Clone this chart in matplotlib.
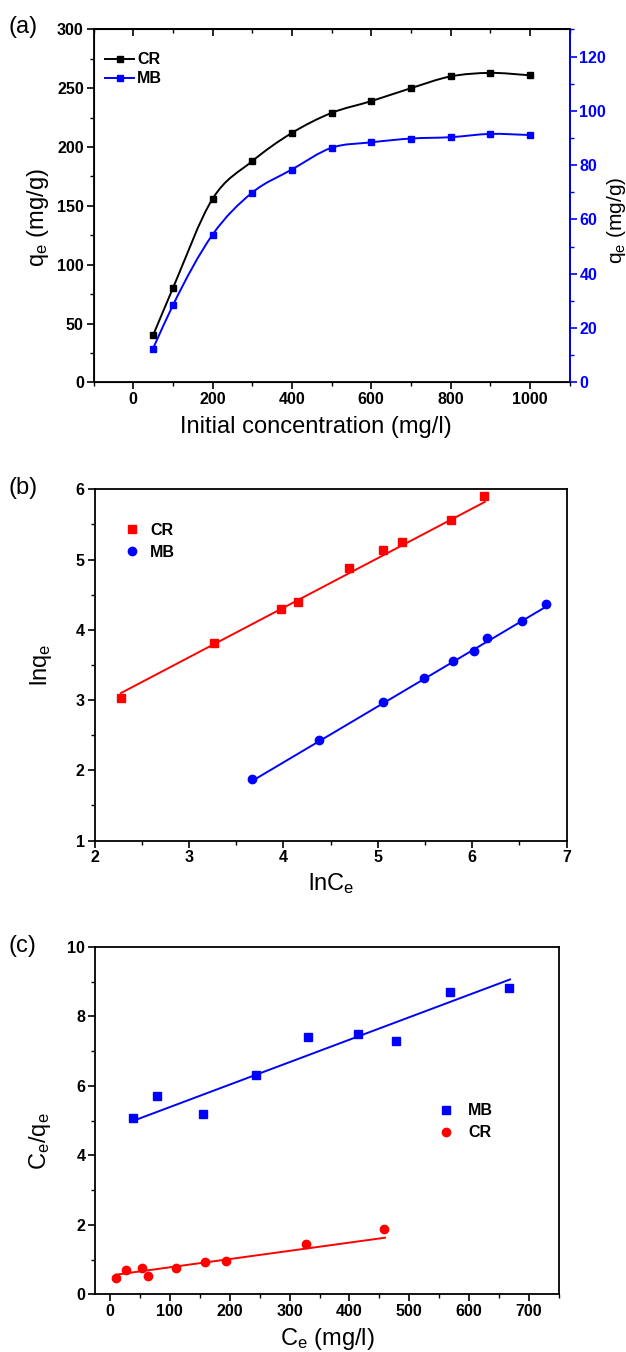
import numpy as np
import matplotlib
matplotlib.use('Agg')
import matplotlib.pyplot as plt
from matplotlib.path import Path
from matplotlib.patches import PathPatch
from matplotlib.ticker import MultipleLocator, NullFormatter
from matplotlib.lines import Line2D

plt.rcParams['font.family'] = ['Liberation Sans', 'DejaVu Sans']
plt.rcParams['mathtext.default'] = 'regular'

# (a) adsorption vs initial concentration
conc = [50, 100, 200, 300, 400, 500, 600, 700, 800, 900, 1000]
qe_cr = [40, 80, 156, 188, 212, 229, 239, 250, 260, 263, 261]
qe_mb = [12.5, 28.4, 54.4, 69.9, 78.4, 86.4, 88.4, 89.8, 90.3, 91.5, 91.1]

# (b) Freundlich plot
lnce_cr = [2.28, 3.27, 3.97, 4.16, 4.70, 5.06, 5.26, 5.78, 6.12]
lnqe_cr = [3.03, 3.81, 4.30, 4.39, 4.88, 5.14, 5.25, 5.56, 5.90]
lnce_mb = [3.67, 4.38, 5.05, 5.49, 5.80, 6.02, 6.16, 6.53, 6.78]
lnqe_mb = [1.88, 2.43, 2.97, 3.32, 3.55, 3.70, 3.88, 4.12, 4.37]
fit_b_cr = [0.706, 1.49]     # slope, intercept
fit_b_mb = [0.797, -1.076]

# (c) Langmuir plot
ce_mb = [39, 79, 156, 244, 330, 414, 478, 568, 666]
ceqe_mb = [5.09, 5.70, 5.20, 6.30, 7.40, 7.49, 7.28, 8.71, 8.80]
ce_cr = [10, 27, 53, 64, 110, 159, 193, 328, 458]
ceqe_cr = [0.47, 0.71, 0.76, 0.53, 0.77, 0.93, 0.96, 1.44, 1.87]
fit_c_mb = [0.00646, 4.744]
fit_c_cr = [0.002366, 0.546]

TICK_FONT = ['Liberation Sans Narrow', 'Liberation Sans', 'DejaVu Sans']
LABEL_SIZE = 17
TICK_SIZE = 11.5


def bold_ticks(ax):
    for lab in ax.get_xticklabels() + ax.get_yticklabels():
        lab.set_fontweight('bold')
        lab.set_family(TICK_FONT)


def style_axis(ax, xmaj, xmin, ymaj, ymin):
    ax.xaxis.set_major_locator(MultipleLocator(xmaj))
    ax.xaxis.set_minor_locator(MultipleLocator(xmin))
    ax.yaxis.set_major_locator(MultipleLocator(ymaj))
    ax.yaxis.set_minor_locator(MultipleLocator(ymin))
    for sp in ax.spines.values():
        sp.set_linewidth(1.3)
    ax.tick_params(which='major', direction='out', length=5, width=1.2,
                   labelsize=TICK_SIZE, pad=2)
    ax.tick_params(which='minor', direction='out', length=3, width=1.0)
    bold_ticks(ax)


def smooth_path(x, y):
    # cubic hermite through the points, drawn as bezier segments
    x = np.asarray(x, float)
    y = np.asarray(y, float)
    n = len(x)
    m = np.zeros(n)
    m[0] = (y[1] - y[0]) / (x[1] - x[0])
    m[-1] = (y[-1] - y[-2]) / (x[-1] - x[-2])
    for i in range(1, n - 1):
        d0 = (y[i] - y[i - 1]) / (x[i] - x[i - 1])
        d1 = (y[i + 1] - y[i]) / (x[i + 1] - x[i])
        h0 = x[i] - x[i - 1]
        h1 = x[i + 1] - x[i]
        m[i] = (d0 * h1 + d1 * h0) / (h0 + h1)
    verts = [(x[0], y[0])]
    codes = [Path.MOVETO]
    for i in range(n - 1):
        h = x[i + 1] - x[i]
        verts += [(x[i] + h / 3, y[i] + m[i] * h / 3),
                  (x[i + 1] - h / 3, y[i + 1] - m[i + 1] * h / 3),
                  (x[i + 1], y[i + 1])]
        codes += [Path.CURVE4] * 3
    return Path(verts, codes)


def fit_line(ax, x, fit, color):
    xs = np.array([min(x), max(x) + 2 * (max(x) - min(x)) / 600])
    ax.plot(xs, fit[0] * xs + fit[1], color=color, lw=1.4)


fig = plt.figure(figsize=(6.26, 13.52), dpi=100)

# ---------- (a) ----------
ax = fig.add_axes([0.1494, 0.7171, 0.7605, 0.2612])
ax2 = ax.twinx()
ax.set_xlim(-100, 1100)
ax.set_ylim(0, 300)
ax2.set_ylim(0, 130)
ax.add_patch(PathPatch(smooth_path(conc, qe_cr), fill=False, ec='black', lw=1.4))
ax.plot(conc, qe_cr, 's', color='black', ms=5)
ax2.add_patch(PathPatch(smooth_path(conc, qe_mb), fill=False, ec='blue', lw=1.4))
ax2.plot(conc, qe_mb, 's', color='blue', ms=5)
style_axis(ax, 200, 100, 50, 25)
top = ax.secondary_xaxis('top')
top.xaxis.set_major_locator(MultipleLocator(200))
top.xaxis.set_minor_locator(MultipleLocator(100))
top.xaxis.set_major_formatter(NullFormatter())
top.tick_params(which='major', direction='in', length=5, width=1.2)
top.tick_params(which='minor', direction='in', length=3, width=1.0)
top.spines['top'].set_linewidth(1.3)
ax2.yaxis.set_major_locator(MultipleLocator(20))
ax2.yaxis.set_minor_locator(MultipleLocator(10))
ax2.tick_params(which='major', direction='out', length=5, width=1.2,
                labelsize=TICK_SIZE, colors='blue', pad=2)
ax2.tick_params(which='minor', direction='out', length=3, width=1.0, colors='blue')
ax2.spines['right'].set_color('blue')
ax2.spines['right'].set_linewidth(1.3)
bold_ticks(ax2)
ax.set_xlabel('Initial concentration (mg/l)', fontsize=LABEL_SIZE)
ax.xaxis.set_label_coords(0.467, -0.095)
ax.set_ylabel('q$_e$ (mg/g)', fontsize=LABEL_SIZE)
ax.yaxis.set_label_coords(-0.09, 0.468)
ax2.set_ylabel('q$_e$ (mg/g)', fontsize=15)
ax2.yaxis.set_label_coords(1.075, 0.46)
h_a = [Line2D([], [], color='black', marker='s', ms=5, lw=1.4),
       Line2D([], [], color='blue', marker='s', ms=5, lw=1.4)]
ax.legend(h_a, ['CR', 'MB'], loc='upper left', bbox_to_anchor=(0.025, 0.935),
          frameon=False, prop={'weight': 'bold', 'size': 11.5},
          handlelength=1.8, handletextpad=0.2, labelspacing=0.25,
          borderaxespad=0, borderpad=0)
fig.text(0.013, 0.980, '(a)', fontsize=17, va='center')

# ---------- (b) ----------
bx = fig.add_axes([0.151, 0.3783, 0.7542, 0.2598])
bx.set_xlim(2, 7)
bx.set_ylim(1, 6)
bx.plot(lnce_cr, lnqe_cr, 's', color='red', ms=6, label='CR')
bx.plot(lnce_mb, lnqe_mb, 'o', color='blue', ms=6, label='MB')
fit_line(bx, lnce_cr, fit_b_cr, 'red')
fit_line(bx, lnce_mb, fit_b_mb, 'blue')
style_axis(bx, 1, 0.5, 1, 0.5)
bx.set_xlabel('lnC$_e$', fontsize=LABEL_SIZE, labelpad=4)
bx.set_ylabel('lnq$_e$', fontsize=LABEL_SIZE)
bx.yaxis.set_label_coords(-0.085, 0.5)
bx.legend(loc='upper left', bbox_to_anchor=(0.06, 0.905), frameon=False,
          prop={'weight': 'bold', 'size': 11.5}, handletextpad=0.5,
          labelspacing=0.45, borderaxespad=0, borderpad=0, handlelength=1.2)
fig.text(0.013, 0.639, '(b)', fontsize=17, va='center')

# ---------- (c) ----------
cx = fig.add_axes([0.1518, 0.04253, 0.7412, 0.2572])
cx.set_xlim(-25, 750)
cx.set_ylim(0, 10)
cx.plot(ce_mb, ceqe_mb, 's', color='blue', ms=6, label='MB')
cx.plot(ce_cr, ceqe_cr, 'o', color='red', ms=6, label='CR')
fit_line(cx, ce_mb, fit_c_mb, 'blue')
fit_line(cx, ce_cr, fit_c_cr, 'red')
style_axis(cx, 100, 50, 2, 1)
cx.set_xlabel('C$_e$ (mg/l)', fontsize=LABEL_SIZE, labelpad=5)
cx.set_ylabel('C$_e$/q$_e$', fontsize=LABEL_SIZE)
cx.yaxis.set_label_coords(-0.09, 0.441)
cx.legend(loc='upper left', bbox_to_anchor=(0.735, 0.55), frameon=False,
          prop={'weight': 'bold', 'size': 11.5}, handletextpad=0.8,
          labelspacing=0.45, borderaxespad=0, borderpad=0, handlelength=1.2)
fig.text(0.013, 0.300, '(c)', fontsize=17, va='center')

fig.savefig('out.png', dpi=100)
